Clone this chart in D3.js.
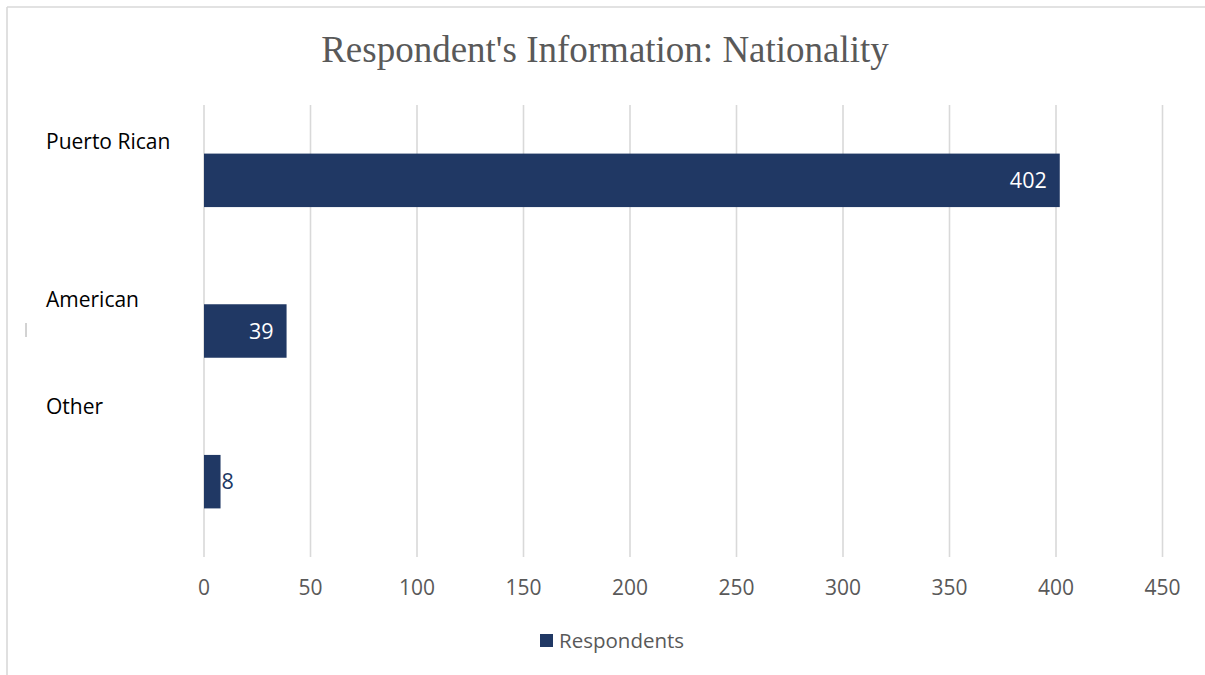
<!DOCTYPE html>
<html>
<head>
<meta charset="utf-8">
<script src="https://cdn.jsdelivr.net/npm/d3@7"></script>
<style>
  html, body { margin: 0; padding: 0; background: #fff; }
  svg { display: block; }
</style>
</head>
<body>
<svg id="chart" width="1205" height="675"></svg>
<script>
// Nationality of respondents
const categories = ["Puerto Rican", "American", "Other"];
const respondents = [402, 39, 8];
const xTicks = [0, 50, 100, 150, 200, 250, 300, 350, 400, 450];
const seriesName = "Respondents";
const titleText = "Respondent's Information: Nationality";

const W = 1205, H = 675;
const barColor = "#203864";
const gridColor = "#d9d9d9";
const textGray = "#595959";
const sans = "'Open Sans', Lato, sans-serif";

const svg = d3.select("#chart");

// Chart frame: top and left edges only
svg.append("line").attr("x1", 7).attr("x2", W).attr("y1", 7).attr("y2", 7)
  .attr("stroke", gridColor).attr("stroke-width", 1.6);
svg.append("line").attr("x1", 7).attr("x2", 7).attr("y1", 7).attr("y2", H)
  .attr("stroke", gridColor).attr("stroke-width", 1.6);

// Title
svg.append("text")
  .attr("x", 605).attr("y", 62)
  .attr("text-anchor", "middle")
  .attr("font-family", "'Liberation Serif', 'Times New Roman', serif")
  .attr("font-size", 37)
  .attr("fill", textGray)
  .text(titleText);

const plot = { left: 203.5, right: 1162, top: 105, bottom: 557 };

const x = d3.scaleLinear().domain([0, 450]).range([plot.left, plot.right]);
const y = d3.scaleBand().domain(categories).range([plot.top, plot.bottom]).padding(0);
const barH = y.bandwidth() * 0.355;

// Vertical gridlines and value axis labels
const xAxis = d3.axisBottom(x).tickValues(xTicks).tickSize(-(plot.bottom - plot.top)).tickPadding(23);
const gx = svg.append("g").attr("transform", `translate(0,${plot.bottom})`).call(xAxis);
gx.select(".domain").remove();
gx.selectAll(".tick line").attr("stroke", gridColor).attr("stroke-width", 1.6);
gx.selectAll(".tick text")
  .attr("font-family", sans).attr("font-size", 21).attr("fill", textGray);

// Bars
svg.append("g").selectAll("rect")
  .data(categories)
  .join("rect")
  .attr("x", x(0) + 0.5)
  .attr("y", d => y(d) + (y.bandwidth() - barH) / 2)
  .attr("width", (d, i) => x(respondents[i]) - x(0) - 0.5)
  .attr("height", barH)
  .attr("fill", barColor);

// Value labels: inside the bar when it fits, outside otherwise
svg.append("g").selectAll("text")
  .data(categories)
  .join("text")
  .each(function (d, i) {
    const v = respondents[i];
    const inside = x(v) - x(0) > 40;
    d3.select(this)
      .attr("x", inside ? x(v) - 13 : x(v) + 1)
      .attr("y", y(d) + y.bandwidth() / 2)
      .attr("dy", "0.35em")
      .attr("text-anchor", inside ? "end" : "start")
      .attr("fill", inside ? "#ffffff" : barColor)
      .text(v);
  })
  .attr("font-family", sans).attr("font-size", 21.5);

// Category labels, set above-left of each bar
const labelOffsets = [-31, -24, -68];
svg.append("g").selectAll("text")
  .data(categories)
  .join("text")
  .attr("x", 46)
  .attr("y", (d, i) => y(d) + y.bandwidth() / 2 + labelOffsets[i])
  .attr("font-family", sans).attr("font-size", 21)
  .attr("fill", "#000")
  .text(d => d);

// Small stray mark left of the American label
svg.append("line").attr("x1", 26).attr("x2", 26).attr("y1", 323).attr("y2", 337)
  .attr("stroke", "#a6a6a6").attr("stroke-width", 1);

// Legend
const lg = svg.append("g").attr("transform", "translate(540,634)");
lg.append("rect").attr("width", 13).attr("height", 13).attr("fill", barColor);
lg.append("text").attr("x", 19).attr("y", 14)
  .attr("font-family", sans).attr("font-size", 20.5).attr("fill", textGray)
  .text(seriesName);
</script>
</body>
</html>
